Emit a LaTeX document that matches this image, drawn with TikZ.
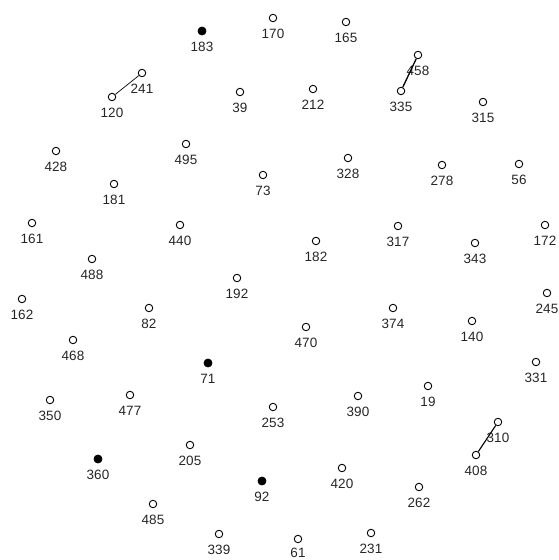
\documentclass[tikz,border=0pt]{standalone}
\usepackage{fontspec}
\setmainfont{Liberation Sans}
\begin{document}
\begin{tikzpicture}[x=1pt,y=-1pt,
  opendot/.style={circle,draw=black,line width=0.9pt,fill=white,inner sep=0pt,minimum size=7.5pt},
  fulldot/.style={circle,draw=black,line width=0.8pt,fill=black,inner sep=0pt,minimum size=8pt},
  numlabel/.style={inner sep=0pt,font=\fontsize{13.5}{14}\selectfont,text=black!85},
  link/.style={draw=black,line width=0.8pt}]
\fill[white] (0,0) rectangle (558,560);
\useasboundingbox (0,0) rectangle (558,560);
\foreach \x/\y/\n/\s in {
 202/31/183/fulldot, 273/18/170/opendot, 346/22/165/opendot,
 142/73/241/opendot, 112/97/120/opendot, 418/55/458/opendot, 401/91/335/opendot,
 240/92/39/opendot, 313/89/212/opendot, 483/102/315/opendot,
 56/151/428/opendot, 186/144/495/opendot, 263/175/73/opendot, 348/158/328/opendot,
 442/165/278/opendot, 519/164/56/opendot, 114/184/181/opendot,
 32/223/161/opendot, 180/225/440/opendot, 316/241/182/opendot, 398/226/317/opendot,
 475/243/343/opendot, 545/225/172/opendot, 92/259/488/opendot, 237/278/192/opendot,
 22/299/162/opendot, 149/308/82/opendot, 393/308/374/opendot, 547/293/245/opendot,
 472/321/140/opendot, 306/327/470/opendot, 73/340/468/opendot, 208/363/71/fulldot,
 536/362/331/opendot, 50/400/350/opendot, 130/395/477/opendot, 273/407/253/opendot,
 358/396/390/opendot, 428/386/19/opendot, 498/422/310/opendot, 476/455/408/opendot,
 190/445/205/opendot, 98/459/360/fulldot, 262/481/92/fulldot, 342/468/420/opendot,
 419/487/262/opendot, 153/504/485/opendot, 219/534/339/opendot,
 371/533/231/opendot}
{
  \node[\s] (n\n) at (\x,\y) {};
  \node[numlabel] (l\n) at (\x,\y+16) {\n};
}
\node[opendot] (n61) at (298,539) {};
\node[numlabel] (l61) at (298,552.5) {61};
\draw[link,line width=0.7pt] (n120) -- (n241);
\draw[link,line width=1.3pt] (n335) -- (n458);
\draw[link,line width=1.1pt] (n408) -- (n310);
\end{tikzpicture}
\end{document}
